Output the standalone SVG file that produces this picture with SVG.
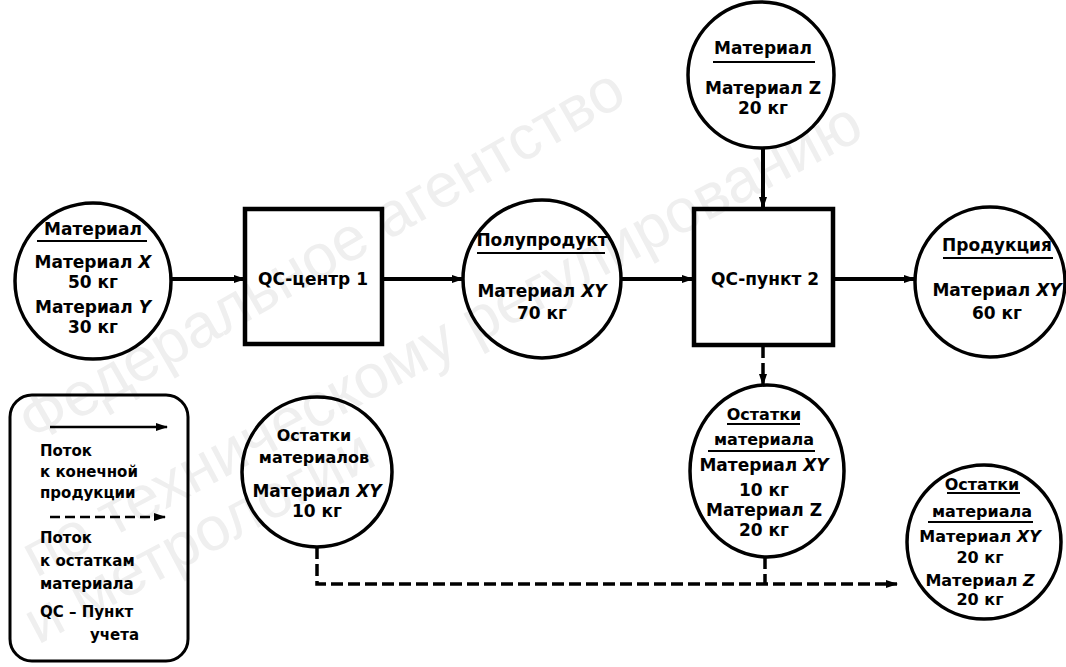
<svg xmlns="http://www.w3.org/2000/svg" width="1066" height="667" viewBox="0 0 1066 667">
<defs>
<marker id="ah" markerUnits="userSpaceOnUse" markerWidth="12" markerHeight="10" refX="11" refY="5" orient="auto">
<path d="M0,1 L12,5 L0,9 z" fill="#000"/>
</marker>
</defs>
<style>
.wm{font-family:"Liberation Sans",Arial,sans-serif;font-size:62px;fill:#efefef}
.nd{fill:none;stroke:#000;stroke-width:3.5}
.bx{fill:none;stroke:#000;stroke-width:4.5}
.t{font-family:"DejaVu Sans","Liberation Sans",sans-serif;font-weight:bold;font-size:17px;fill:#000;text-anchor:middle}
.s{font-size:16px}
.lg{font-family:"DejaVu Sans","Liberation Sans",sans-serif;font-weight:bold;font-size:15px;fill:#000}
.sep{stroke:#000;stroke-width:2}
.solid{fill:none;stroke:#000;stroke-width:4}
.dash{fill:none;stroke:#000;stroke-width:3.5;stroke-dasharray:12 5}
.i{font-style:italic}
</style>
<rect width="1066" height="667" fill="#fff"/>
<g id="watermark">
<text class="wm" font-size="58" transform="translate(34,445) rotate(-30)">Федеральное агентство</text>
<text class="wm" font-size="70" transform="translate(36,578) rotate(-28)">по техническому регулированию</text>
<text class="wm" font-size="70" transform="translate(38,645) rotate(-28)">и метрологии</text>
</g>
<g id="connectors">
<line class="solid" x1="171" y1="279" x2="245" y2="279" marker-end="url(#ah)"/>
<line class="solid" x1="382" y1="279" x2="463" y2="279" marker-end="url(#ah)"/>
<line class="solid" x1="621" y1="279" x2="693" y2="279" marker-end="url(#ah)"/>
<line class="solid" x1="763" y1="148" x2="763" y2="208" stroke-width="3" marker-end="url(#ah)"/>
<line class="solid" x1="833" y1="279" x2="915" y2="279" marker-end="url(#ah)"/>
<line class="dash" x1="763" y1="346" x2="763" y2="385" marker-end="url(#ah)"/>
<path class="dash" d="M317,547 L317,584 L897,584" marker-end="url(#ah)"/>
<line class="dash" x1="765" y1="557" x2="765" y2="584"/>
</g>
<g id="n-material">
<circle class="nd" cx="93" cy="281" r="78"/>
<text class="t" x="93" y="235">Материал</text>
<line class="sep" x1="37" y1="241" x2="147" y2="241"/>
<text class="t" x="93" y="268">Материал <tspan class="i">X</tspan></text>
<text class="t" x="93" y="288">50 кг</text>
<text class="t" x="93" y="313">Материал <tspan class="i">Y</tspan></text>
<text class="t" x="93" y="333">30 кг</text>
</g>
<g id="n-qc1">
<rect class="bx" x="245" y="209" width="137" height="135"/>
<text class="t" x="313" y="285">QC-центр 1</text>
</g>
<g id="n-semi">
<circle class="nd" cx="542" cy="279" r="79"/>
<text class="t" x="542" y="246">Полупродукт</text>
<line class="sep" x1="477" y1="253" x2="605" y2="253"/>
<text class="t" x="542" y="297">Материал <tspan class="i">XY</tspan></text>
<text class="t" x="542" y="319">70 кг</text>
</g>
<g id="n-materialz">
<circle class="nd" cx="761" cy="75" r="73"/>
<text class="t" x="763" y="54">Материал</text>
<line class="sep" x1="713" y1="62" x2="815" y2="62"/>
<text class="t" x="763" y="94">Материал Z</text>
<text class="t" x="763" y="114">20 кг</text>
</g>
<g id="n-qc2">
<rect class="bx" x="694" y="209" width="139" height="136"/>
<text class="t" x="765" y="285">QC-пункт 2</text>
</g>
<g id="n-product">
<circle class="nd" cx="990" cy="282" r="75"/>
<text class="t" x="997" y="251">Продукция</text>
<line class="sep" x1="943" y1="258" x2="1053" y2="258"/>
<text class="t" x="997" y="296">Материал <tspan class="i">XY</tspan></text>
<text class="t" x="997" y="319">60 кг</text>
</g>
<g id="n-rest1">
<circle class="nd" cx="317" cy="472" r="75"/>
<text class="t s" x="314" y="441">Остатки</text>
<text class="t s" x="314" y="463">материалов</text>
<text class="t" x="317" y="497">Материал <tspan class="i">XY</tspan></text>
<text class="t" x="317" y="517">10 кг</text>
</g>
<g id="n-rest2">
<ellipse class="nd" cx="767" cy="471" rx="77" ry="86"/>
<text class="t s" x="764" y="420">Остатки</text>
<line class="sep" x1="727" y1="424" x2="800" y2="424"/>
<text class="t s" x="764" y="445">материала</text>
<line class="sep" x1="708" y1="451" x2="815" y2="451"/>
<text class="t" x="764" y="471">Материал <tspan class="i">XY</tspan></text>
<text class="t" x="764" y="496">10 кг</text>
<text class="t" x="764" y="516">Материал Z</text>
<text class="t" x="764" y="536">20 кг</text>
</g>
<g id="n-rest3">
<circle class="nd" cx="984" cy="542" r="77"/>
<text class="t s" x="982" y="490">Остатки</text>
<line class="sep" x1="947" y1="493" x2="1020" y2="493"/>
<text class="t s" x="982" y="517">материала</text>
<line class="sep" x1="928" y1="522" x2="1033" y2="522"/>
<text class="t s" x="980" y="542">Материал <tspan class="i">XY</tspan></text>
<text class="t s" x="980" y="563">20 кг</text>
<text class="t s" x="980" y="586">Материал <tspan class="i">Z</tspan></text>
<text class="t s" x="980" y="605">20 кг</text>
</g>
<g id="legend">
<rect x="10" y="395" width="178" height="266" rx="22" ry="22" fill="none" stroke="#000" stroke-width="3"/>
<line x1="50" y1="427" x2="167" y2="427" stroke="#000" stroke-width="2.5" marker-end="url(#ah)"/>
<text class="lg" x="40" y="456">Поток</text>
<text class="lg" x="40" y="477">к конечной</text>
<text class="lg" x="40" y="498">продукции</text>
<line x1="50" y1="517" x2="165" y2="517" stroke="#000" stroke-width="2.5" stroke-dasharray="10 5" marker-end="url(#ah)"/>
<text class="lg" x="40" y="543">Поток</text>
<text class="lg" x="40" y="566">к остаткам</text>
<text class="lg" x="40" y="589">материала</text>
<text class="lg" x="40" y="617">QC – Пункт</text>
<text class="lg" x="90" y="640">учета</text>
</g>
</svg>
